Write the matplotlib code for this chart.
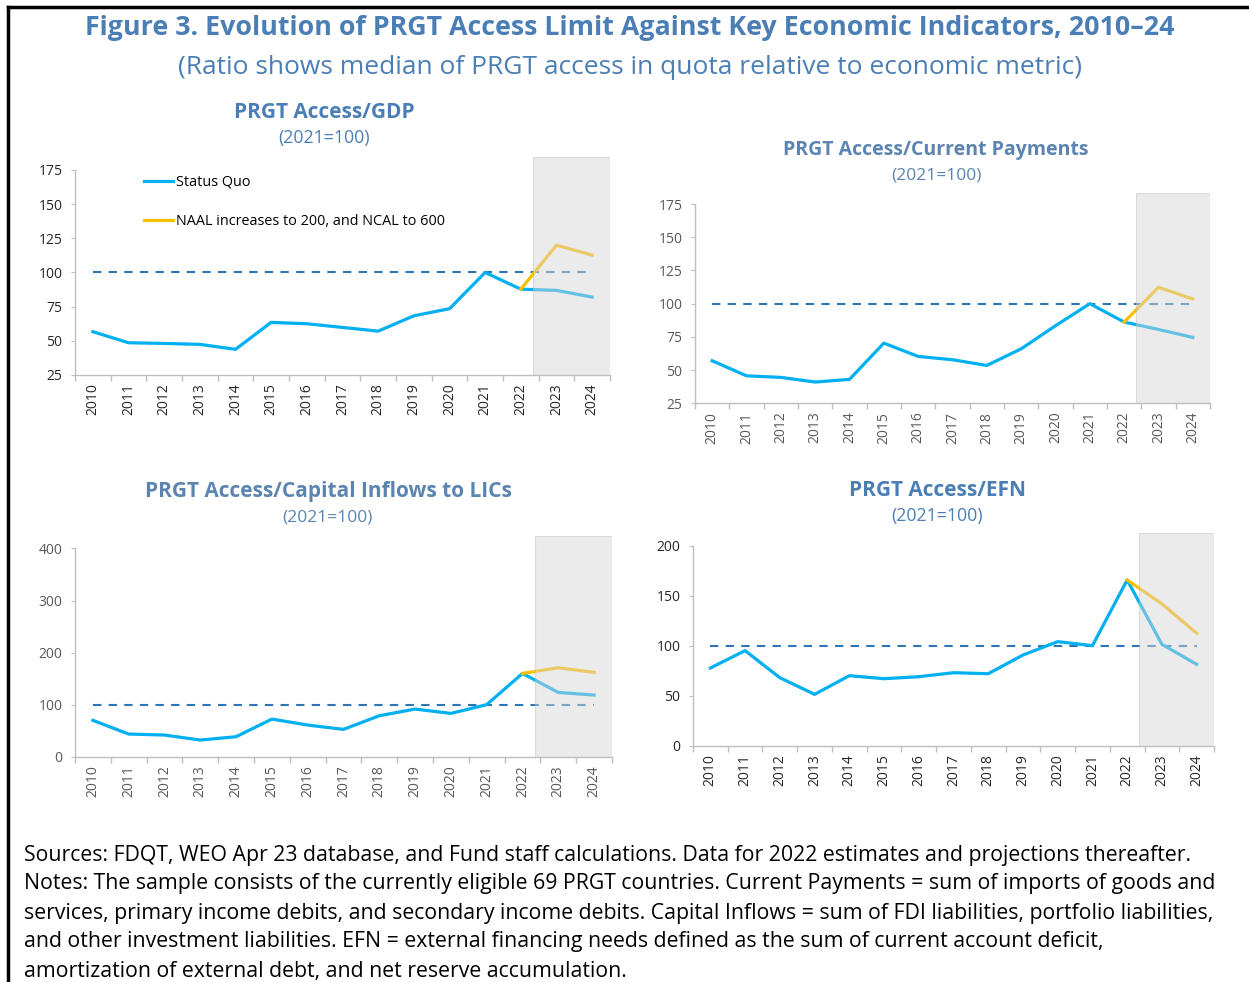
import matplotlib
matplotlib.use("Agg")
import matplotlib.pyplot as plt
from matplotlib.lines import Line2D
import numpy as np

plt.rcParams['font.family'] = ['Open Sans', 'DejaVu Sans']

# Data
years = [str(y) for y in range(2010, 2025)]
proj_years = ["2022", "2023", "2024"]

gdp_sq = [56.7, 48.6, 48.1, 47.4, 43.8, 63.5, 62.5, 59.8, 57.1, 68.3, 73.5, 100.0, 87.8, 86.9, 82.0]
gdp_naal = [87.8, 120.0, 112.7]

cp_sq = [57.0, 45.7, 44.5, 41.0, 43.0, 70.3, 60.3, 57.8, 53.5, 66.0, 83.4, 100.0, 86.2, 80.6, 74.6]
cp_naal = [86.2, 112.3, 103.5]

ci_sq = [69.8, 43.5, 41.6, 32.0, 38.4, 72.3, 60.8, 52.5, 78.7, 91.5, 83.2, 100.0, 160.0, 123.5, 118.4]
ci_naal = [160.0, 170.9, 162.0]

efn_sq = [77.8, 95.2, 68.1, 51.4, 70.1, 67.1, 69.1, 73.1, 72.1, 90.8, 104.2, 100.2, 166.0, 101.5, 81.5]
efn_naal = [166.0, 142.0, 112.6]

BLUE = "#00B0F0"
YELLOW = "#FFC000"
DASH = "#2E75B6"
TITLE_C = "#4A7EB5"
TITLE_C2 = "#5B84B1"

W, H = 1249, 982
fig = plt.figure(figsize=(W / 100, H / 100), dpi=100)


def px_axes(left, right, top, bottom):
    return fig.add_axes([left / W, 1 - bottom / H, (right - left) / W, (bottom - top) / H])


def panel(ax, sq, naal, ylo, yhi, ytop, yticks, tick_color):
    x = np.arange(len(years))
    xp = np.array([years.index(y) for y in proj_years])
    ax.plot(x, sq, color=BLUE, lw=2.3, solid_joinstyle="round", zorder=3, label="Status Quo")
    ax.plot(xp, naal, color=YELLOW, lw=2.3, solid_joinstyle="round", zorder=4,
            label="NAAL increases to 200, and NCAL to 600")
    ax.plot([0, len(years) - 1], [100, 100], color=DASH, lw=1.5, ls=(0, (4, 3.5)), zorder=2)
    ax.axvspan(12.35, 14.5, facecolor="#d5d5d5", alpha=0.47, edgecolor="#bdbdbd", lw=0.8, zorder=5)
    ax.set_xlim(-0.5, 14.5)
    ax.set_ylim(ylo, ytop)
    ax.set_yticks(yticks)
    ax.set_xticks(x)
    ax.set_xticklabels(years, rotation=90)
    ax.set_xticks(np.arange(-0.5, 14.6, 1), minor=True)
    ax.tick_params(axis="x", which="major", length=0, pad=6, labelsize=10, labelcolor=tick_color)
    ax.tick_params(axis="x", which="minor", length=4, color="#BFBFBF", width=1)
    ax.tick_params(axis="y", length=3, color="#BFBFBF", pad=6, labelsize=10, labelcolor=tick_color)
    for s in ["top", "right"]:
        ax.spines[s].set_visible(False)
    for s in ["left", "bottom"]:
        ax.spines[s].set_color("#BFBFBF")
        ax.spines[s].set_linewidth(1)
    ax.spines["left"].set_bounds(ylo, yhi)
    ax.set_facecolor("none")


# Panel 1: GDP
ax1 = px_axes(75, 610, 157, 375)
panel(ax1, gdp_sq, gdp_naal, 25, 175, 184.5, [25, 50, 75, 100, 125, 150, 175], "#262626")
ax1.legend(loc="upper left", bbox_to_anchor=(138 / W, 1 - 169 / H), bbox_transform=fig.transFigure,
           frameon=False, fontsize=10.4, labelspacing=1.7, handlelength=2.0, handletextpad=0.2,
           borderaxespad=0)

# Panel 2: Current Payments
ax2 = px_axes(695, 1210, 192.5, 403.3)
panel(ax2, cp_sq, cp_naal, 25, 175, 183.7, [25, 50, 75, 100, 125, 150, 175], "#595959")

# Panel 3: Capital Inflows
ax3 = px_axes(75, 612, 536, 756.7)
panel(ax3, ci_sq, ci_naal, 0, 400, 424, [0, 100, 200, 300, 400], "#595959")

# Panel 4: EFN
ax4 = px_axes(693, 1214, 533.3, 745.7)
panel(ax4, efn_sq, efn_naal, 0, 200, 212.7, [0, 50, 100, 150, 200], "#262626")


def ftext(x, y, s, **kw):
    fig.text(x / W, 1 - y / H, s, ha="center", va="center", **kw)


ftext(630, 28, "Figure 3. Evolution of PRGT Access Limit Against Key Economic Indicators, 2010\u201324",
      fontsize=19.3, fontweight="bold", color=TITLE_C)
ftext(630, 68, "(Ratio shows median of PRGT access in quota relative to economic metric)",
      fontsize=19, color=TITLE_C)

ftext(324, 112, "PRGT Access/GDP", fontsize=15, fontweight="bold", color=TITLE_C)
ftext(324, 138, "(2021=100)", fontsize=12.8, color=TITLE_C)
ftext(936, 150, "PRGT Access/Current Payments", fontsize=14, fontweight="bold", color=TITLE_C2)
ftext(936, 175, "(2021=100)", fontsize=12.5, color=TITLE_C2)
ftext(328, 491, "PRGT Access/Capital Inflows to LICs", fontsize=15, fontweight="bold", color=TITLE_C2)
ftext(327, 518, "(2021=100)", fontsize=12.5, color=TITLE_C2)
ftext(937, 491, "PRGT Access/EFN", fontsize=15, fontweight="bold", color=TITLE_C)
ftext(937, 516, "(2021=100)", fontsize=12.8, color=TITLE_C)

notes = [
    "Sources: FDQT, WEO Apr 23 database, and Fund staff calculations. Data for 2022 estimates and projections thereafter.",
    "Notes: The sample consists of the currently eligible 69 PRGT countries. Current Payments = sum of imports of goods and",
    "services, primary income debits, and secondary income debits. Capital Inflows = sum of FDI liabilities, portfolio liabilities,",
    "and other investment liabilities. EFN = external financing needs defined as the sum of current account deficit,",
    "amortization of external debt, and net reserve accumulation.",
]
for i, line in enumerate(notes):
    fig.text(24 / W, 1 - (855 + 29 * i) / H, line, ha="left", va="center", fontsize=15.3, color="black")

# frame lines (top and left)
fig.add_artist(Line2D([8 / W, 1], [1 - 7 / H, 1 - 7 / H], transform=fig.transFigure, color="black", lw=2.5))
fig.add_artist(Line2D([8 / W, 8 / W], [1 - 7 / H, 0], transform=fig.transFigure, color="black", lw=2.5))

fig.savefig("out.png", dpi=100)
